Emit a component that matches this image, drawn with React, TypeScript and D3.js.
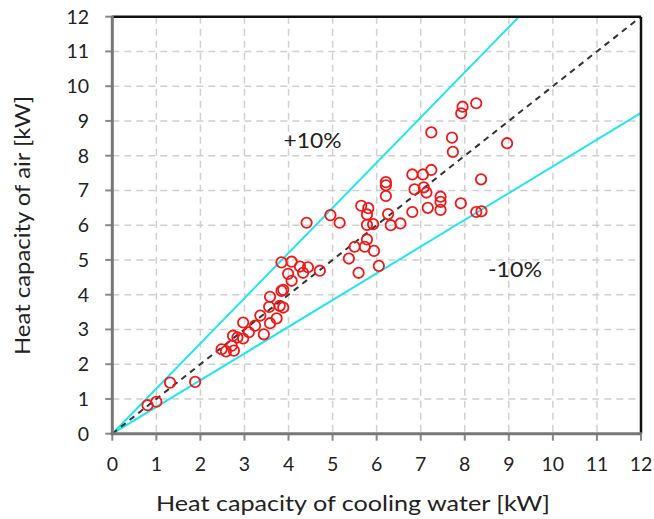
import React from "react";
import * as d3 from "d3";

const waterKW = [
  0.80, 1.00, 1.31, 1.88, 2.48, 2.58, 2.76, 2.71, 2.74, 2.84, 2.97, 2.97, 3.10, 3.24, 3.36, 3.44,
  3.58, 3.73, 3.56, 3.58, 3.80, 3.88, 3.84, 3.88, 4.07, 3.99, 3.84, 4.07, 4.26, 4.33, 4.44, 4.71,
  4.41, 4.95, 5.16, 5.37, 5.50, 5.73, 5.59, 5.78, 5.94, 6.05, 5.65, 5.81, 5.78, 5.78, 5.92, 6.26,
  6.32, 6.54, 6.21, 6.21, 6.21, 6.81, 6.81, 6.86, 7.05, 7.24, 7.07, 7.13, 7.16, 7.45, 7.45, 7.45,
  7.91, 8.26, 8.38, 8.37, 7.24, 7.71, 7.73, 8.96, 7.95, 7.92, 8.26,
];
const airKW = [
  0.82, 0.92, 1.47, 1.49, 2.43, 2.37, 2.39, 2.53, 2.82, 2.77, 2.74, 3.20, 2.92, 3.11, 3.40, 2.86,
  3.18, 3.32, 3.65, 3.94, 3.68, 3.63, 4.11, 4.14, 4.40, 4.60, 4.93, 4.95, 4.81, 4.63, 4.79, 4.69,
  6.07, 6.29, 6.07, 5.04, 5.38, 5.38, 4.63, 5.59, 5.26, 4.83, 6.56, 6.49, 6.31, 6.01, 6.03, 6.32,
  6.00, 6.05, 7.24, 7.15, 6.84, 7.46, 6.38, 7.03, 7.46, 7.59, 7.09, 6.94, 6.50, 6.82, 6.67, 6.44,
  6.63, 6.38, 6.40, 7.32, 8.67, 8.52, 8.11, 8.36, 9.41, 9.22, 9.51,
];
const tickValues = [0, 1, 2, 3, 4, 5, 6, 7, 8, 9, 10, 11, 12];
const upperFactor = 1.3;
const lowerFactor = 1 / 1.3;
const upperLabel = "+10%";
const lowerLabel = "-10%";
const xTitle = "Heat capacity of cooling water [kW]";
const yTitle = "Heat capacity of air [kW]";

const W = 654;
const H = 519;
const left = 112.3;
const right = 641;
const top = 16.7;
const bottom = 433.7;
const font = "Lato, 'Open Sans', sans-serif";

export default function App() {
  const x = d3.scaleLinear().domain([0, 12]).range([left, right]);
  const y = d3.scaleLinear().domain([0, 12]).range([bottom, top]);
  const line = d3.line<[number, number]>().x((d) => x(d[0])).y((d) => y(d[1]));
  const upperEnd = 12 / upperFactor;
  const pts = waterKW.map((v, i) => [v, airKW[i]] as [number, number]);

  return (
    <svg width={W} height={H} style={{ position: "absolute", left: 0, top: 0 }} fontFamily={font}>
      <rect x={0} y={0} width={W} height={H} fill="#fff" />
      {/* grid */}
      {tickValues.slice(1, -1).map((t) => (
        <g key={"g" + t}>
          <line x1={x(t)} x2={x(t)} y1={top} y2={bottom} stroke="#d0d0d0" strokeWidth={1.5} strokeDasharray="7,5" />
          <line x1={left} x2={right} y1={y(t)} y2={y(t)} stroke="#d0d0d0" strokeWidth={1.5} strokeDasharray="7,5" />
        </g>
      ))}
      {/* ticks */}
      {tickValues.map((t) => (
        <g key={"t" + t}>
          <line x1={left - 7} x2={left} y1={y(t)} y2={y(t)} stroke="#888" strokeWidth={2} />
          <line x1={x(t)} x2={x(t)} y1={bottom} y2={bottom + 7} stroke="#888" strokeWidth={2} />
          <text x={89} y={y(t)} dy="0.36em" textAnchor="end" fontSize={19.5} fill="#222">
            {t}
          </text>
          <text x={x(t)} y={471} textAnchor="middle" fontSize={19.5} fill="#222">
            {t}
          </text>
        </g>
      ))}
      {/* reference lines */}
      <path d={line([[0, 0], [upperEnd, 12]]) || ""} stroke="#22e5ee" strokeWidth={2} fill="none" />
      <path d={line([[0, 0], [12, 12 * lowerFactor]]) || ""} stroke="#22e5ee" strokeWidth={2} fill="none" />
      <path d={line([[0, 0], [12, 12]]) || ""} stroke="#333" strokeWidth={2} strokeDasharray="6,5" fill="none" />
      {/* points */}
      {pts.map((p, i) => (
        <circle key={i} cx={x(p[0])} cy={y(p[1])} r={5.2} fill="none" stroke="#f01818" strokeWidth={1.8} />
      ))}
      {/* frame */}
      <line x1={left} x2={right} y1={top} y2={top} stroke="#111" strokeWidth={2.5} />
      <line x1={right} x2={right} y1={top} y2={bottom} stroke="#111" strokeWidth={2.5} />
      <line x1={left} x2={left} y1={top - 1} y2={bottom + 1.5} stroke="#777" strokeWidth={3} />
      <line x1={left - 1.5} x2={right + 1} y1={bottom} y2={bottom} stroke="#777" strokeWidth={3} />
      {/* annotations */}
      <text x={312.5} y={148} textAnchor="middle" fontSize={22} textLength={58} lengthAdjust="spacingAndGlyphs" fill="#222">
        {upperLabel}
      </text>
      <text x={515} y={277} textAnchor="middle" fontSize={22} textLength={54} lengthAdjust="spacingAndGlyphs" fill="#222">
        {lowerLabel}
      </text>
      {/* titles */}
      <text x={353} y={511} textAnchor="middle" fontSize={21.5} textLength={394} lengthAdjust="spacingAndGlyphs" fill="#222">
        {xTitle}
      </text>
      <text transform={`translate(30,225.5) rotate(-90)`} textAnchor="middle" fontSize={21.5} textLength={259} lengthAdjust="spacingAndGlyphs" fill="#222">
        {yTitle}
      </text>
    </svg>
  );
}
